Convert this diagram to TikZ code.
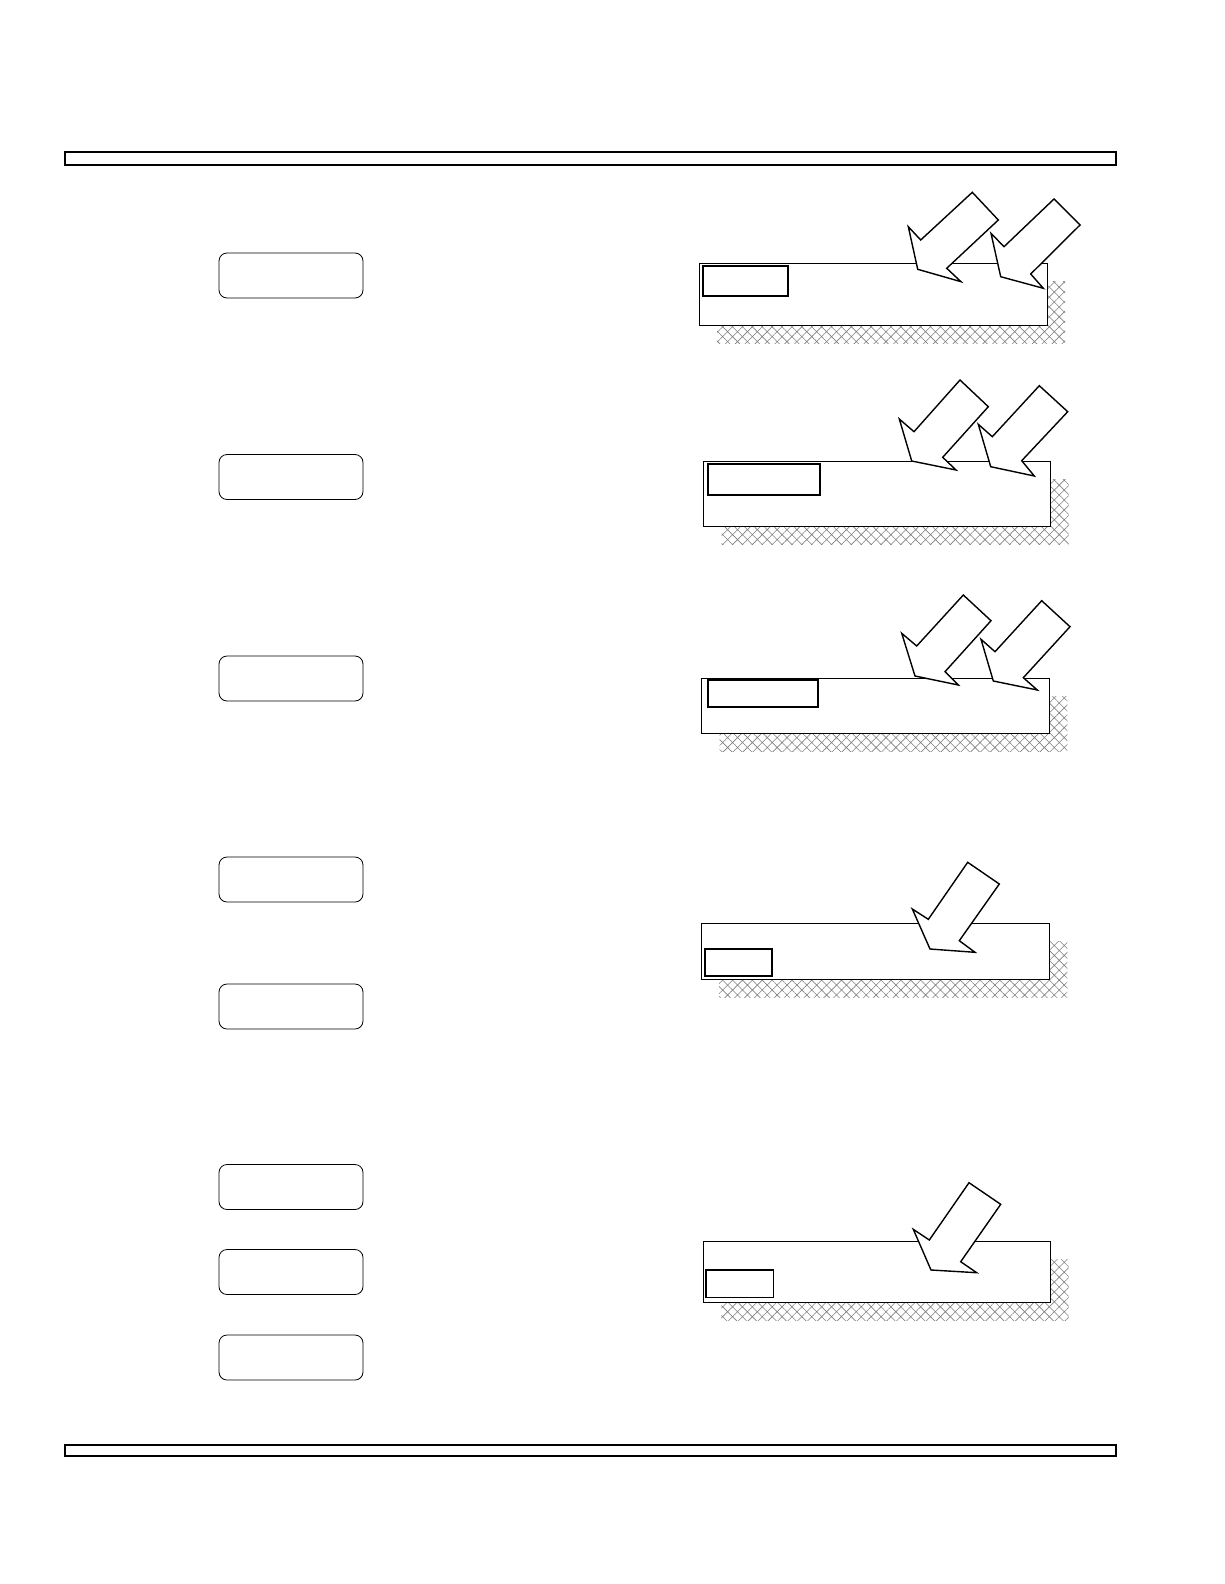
\documentclass[tikz,border=0pt]{standalone}
\usetikzlibrary{patterns.meta}
\tikzset{
	kasten/.style={draw, rounded corners=8pt, minimum width=144pt, minimum height=45pt, inner sep=0pt, line width=0.8pt},
	platte/.style={draw, fill=white, line width=1pt},
	schatten/.style={pattern={Hatch[angle=45,distance=7pt,line width=0.6pt]}, pattern color=gray},
	fenster/.style={draw, line width=2pt},
	pfeil/.style={draw, fill=white, line width=1.4pt, line join=miter},
	balken/.style={draw, line width=2pt},
}
\begin{document}
\begin{tikzpicture}[x=1pt,y=-1pt]
	\useasboundingbox (0,0) rectangle (1224,1584);
	\draw[balken] (65,152) rectangle (1116,165);%Balken oben
	\draw[balken] (65,1445) rectangle (1116,1456);%Balken unten
	% linke Spalte
	\node[kasten] (k1) at (291,275.5) {};
	\node[kasten] (k2) at (291,477) {};
	\node[kasten] (k3) at (291,678.5) {};
	\node[kasten] (k4) at (291,879.5) {};
	\node[kasten] (k5) at (291,1006.5) {};
	\node[kasten] (k6) at (291,1187) {};
	\node[kasten] (k7) at (291,1272) {};
	\node[kasten] (k8) at (291,1357.5) {};
	% Platte 1
	\fill[schatten] (717,281) rectangle (1065,343);%Schatten
	\draw[platte] (699,263) rectangle (1047,325);%Platte
	\draw[fenster] (703,266) rectangle (788,296);%Fenster
	\draw[pfeil] (972.3,192.3) -- (998.3,220) -- (946.7,268.3) -- (961,281.7) -- (917.7,269.3) -- (908.3,226.7) -- (920.7,240) -- cycle;%Pfeil links
	\draw[pfeil] (1054,199) -- (1080,225) -- (1030.7,274) -- (1043.3,288.3) -- (1000.7,276.7) -- (991,233.3) -- (1004,246.7) -- cycle;%Pfeil rechts
	% Platte 2
	\fill[schatten] (721.7,479) rectangle (1068.7,544);%Schatten
	\draw[platte] (703.3,461) rectangle (1050.7,526);%Platte
	\draw[fenster] (707.7,464.3) rectangle (820,495);%Fenster
	\draw[pfeil] (960,380) -- (988.3,406.7) -- (942.7,457.3) -- (956,470) -- (911.7,461) -- (899.3,419) -- (914,431.7) -- cycle;%Pfeil links
	\draw[pfeil] (1039.3,385.7) -- (1067.7,411.7) -- (1021.7,460.7) -- (1034.3,476) -- (990.7,466.7) -- (978.3,424.3) -- (992.3,436.7) -- cycle;%Pfeil rechts
	% Platte 3
	\fill[schatten] (719.7,696.3) rectangle (1067.3,751.3);%Schatten
	\draw[platte] (701.7,678.3) rectangle (1049.3,733.3);%Platte
	\draw[fenster] (707.7,680) rectangle (817.7,707);%Fenster
	\draw[pfeil] (963.3,595) -- (991,620.7) -- (945,671.7) -- (958.3,685) -- (915,676) -- (901.7,633.3) -- (916.7,646) -- cycle;%Pfeil links
	\draw[pfeil] (1041.7,600.7) -- (1070,626.7) -- (1023.3,677.7) -- (1037.3,690) -- (993.3,681) -- (981,639.3) -- (995,651.7) -- cycle;%Pfeil rechts
	% Platte 4
	\fill[schatten] (719,941.3) rectangle (1067.3,997);%Schatten
	\draw[platte] (701,923.3) rectangle (1049.3,979);%Platte
	\draw[fenster] (705,949.3) rectangle (772.3,976);%Fenster
	\draw[pfeil] (967.7,862.3) -- (999.3,884) -- (959.3,940.7) -- (975,952.3) -- (930,949) -- (912.3,909) -- (928.3,919.3) -- cycle;%Pfeil
	% Platte 5
	\fill[schatten] (721.3,1259) rectangle (1068.7,1320.7);%Schatten
	\draw[platte] (703.3,1241) rectangle (1050.7,1302.7);%Platte
	\draw[fenster, line width=1.2pt] (706,1270) rectangle (773.3,1297.3);%Fenster
	\draw[pfeil] (969,1182.7) -- (1000.7,1204.3) -- (960.7,1261.7) -- (976.7,1272.7) -- (931,1270) -- (913.3,1229.3) -- (929.3,1240) -- cycle;%Pfeil
\end{tikzpicture}
\end{document}
